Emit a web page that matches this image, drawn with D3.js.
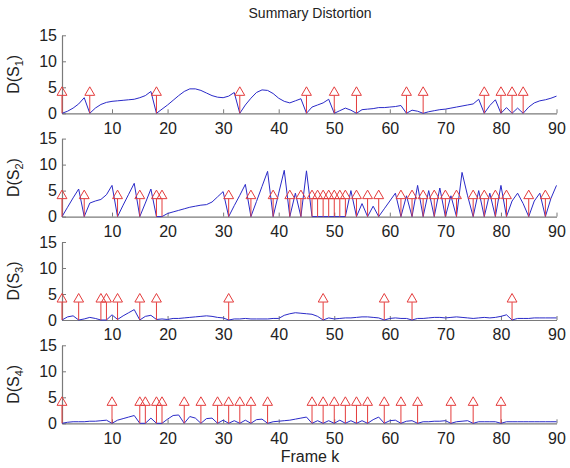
<!DOCTYPE html>
<html>
<head>
<meta charset="utf-8">
<script src="https://cdn.jsdelivr.net/npm/d3@7/dist/d3.min.js"></script>
<style>
  html, body { margin: 0; padding: 0; background: #ffffff; }
  svg { display: block; font-family: Arial, "Liberation Sans", Helvetica, sans-serif; }
</style>
</head>
<body>
<svg id="chart" width="570" height="468"></svg>
<script>
// ---------------- data ----------------
const frames = d3.range(1, 91);            // Frame k = 1..90
const xTickValues = [10, 20, 30, 40, 50, 60, 70, 80, 90];
const yTickValues = [0, 5, 10, 15];
const stemHeight = 4;

const distS1 = [0,0.4,1.0,1.8,3.0,0,1.0,1.7,2.1,2.3, 2.4,2.5,2.6,2.7,3.0,3.4,4.2,0,0.8,1.6,
  2.5,3.4,4.2,4.7,4.7,4.4,3.9,3.4,3.1,3.0, 3.3,4.0,0,1.6,2.9,4.0,4.5,4.4,3.8,2.9,
  2.3,2.0,2.4,2.8,0,1.2,1.6,2.0,2.7,0, 0.5,1.0,0.6,0,0.7,0.8,0.9,1.1,1.1,1.2,
  1.3,1.5,0,0.6,0.4,0,0.3,0.5,0.7,0.8, 1.0,1.2,1.4,1.6,1.8,2.7,0,1.5,2.6,0,
  1.1,0,1.0,0,1.2,2.0,2.4,2.6,2.9,3.3];
const stemsS1 = [1,6,18,33,45,50,54,63,66,77,80,82,84];

const distS2 = [0,1.8,3.6,5.3,0,2.6,3.0,3.3,4.2,6.0, 0,2.2,4.3,6.4,0,2.6,5.3,0,0,0.6,
  0.9,1.2,1.5,1.8,2.0,2.2,2.3,2.8,3.8,4.8, 0,2.1,4.1,6.2,0,2.9,5.8,8.7,0,4.5,
  8.9,0,4.5,0,8.8,0,0,0,0,0, 0,0,5.0,0,2.5,0,2.0,0,1.5,3.0,
  4.5,0,4.0,0,6.0,0,5.0,0,5.5,0, 4.0,0,8.5,4.0,0,5.0,0,4.5,0,6.0,
  0,3.0,4.5,2.5,0,3.0,4.5,0,3.5,6.0];
const stemsS2 = [1,5,11,15,18,19,31,35,39,42,44,46,47,48,49,50,51,52,54,56,58,62,64,66,68,70,72,75,77,79,81,85,88];

const distS3 = [0,0.6,0.8,0,0.2,0.5,0.3,0,0,1.0, 0.1,0.8,1.4,2.0,0,0.7,0.9,0.1,0.2,0.1,
  0.3,0.3,0.4,0.5,0.6,0.7,0.8,0.7,0.5,0.4, 0,0.2,0.2,0.3,0.2,0.2,0.2,0.2,0.3,0.3,
  0.9,1.2,1.4,1.3,1.2,1.1,0.7,0,0.4,0.2, 0.3,0.4,0.4,0.5,0.6,0.6,0.5,0.4,0,0.3,
  0.4,0.3,0.3,0,0.3,0.3,0.4,0.5,0.5,0.4, 0.5,0.6,0.5,0.4,0.3,0.4,0.5,0.4,0.5,0.7,
  1.0,0,0.3,0.3,0.3,0.4,0.4,0.4,0.4,0.4];
const stemsS3 = [1,4,8,9,11,15,18,31,48,59,64,82];

const distS4 = [0,0.2,0.3,0.3,0.3,0.4,0.4,0.5,0.6,0, 0.6,0.9,1.2,1.5,0,0,1.0,0,0,0.8,
  1.5,1.6,0,1.3,1.0,0,0.9,1.0,0,0.6, 0,0.5,0,0.6,0,0.7,0.8,0,0.3,0.4,
  0.5,0.6,0.8,1.0,1.2,0,0.5,0,0.5,0, 0.6,0,0.5,0,0.5,0,0.7,1.2,0,0.5,
  0.6,0,0.4,0.5,0,0.3,0.3,0.4,0.4,0.5, 0,0.3,0.4,0.5,0,0.3,0.3,0.3,0.3,0,
  0.3,0.3,0.3,0.3,0.3,0.3,0.3,0.3,0.3,0.3];
const stemsS4 = [1,10,15,16,18,19,23,26,29,31,33,35,38,46,48,50,52,54,56,59,62,65,71,75,80];

const panels = [
  { sub: "1", values: distS1, stems: stemsS1 },
  { sub: "2", values: distS2, stems: stemsS2 },
  { sub: "3", values: distS3, stems: stemsS3 },
  { sub: "4", values: distS4, stems: stemsS4 }
];

// ---------------- layout ----------------
const svg = d3.select("#chart");
const plotLeft = 62, plotRight = 556.5;
const panelBottoms = [113.3, 216.6, 320, 423.3];
const panelHeight = 78;

const x = d3.scaleLinear().domain([1, 90]).range([plotLeft, plotRight]);

const axisColor = "#7a7a7a";
const lineColor = "#2a2ac8";
const stemColor = "#e43c3c";

svg.append("text")
  .attr("x", 310).attr("y", 18)
  .attr("text-anchor", "middle")
  .attr("font-size", 14).attr("fill", "#222")
  .text("Summary Distortion");

panels.forEach((p, i) => {
  const yb = panelBottoms[i];
  const y = d3.scaleLinear().domain([0, 15]).range([yb, yb - panelHeight]);
  const g = svg.append("g");

  const xa = g.append("g")
    .attr("transform", `translate(0,${yb})`)
    .call(d3.axisBottom(x).tickValues(xTickValues).tickSize(-4).tickSizeOuter(0).tickPadding(9));
  const ya = g.append("g")
    .attr("transform", `translate(${plotLeft},0)`)
    .call(d3.axisLeft(y).tickValues(yTickValues).tickSize(-4).tickSizeOuter(0).tickPadding(5));
  [xa, ya].forEach(a => {
    a.select(".domain").attr("stroke", axisColor).attr("stroke-width", 1.2);
    a.selectAll(".tick line").attr("stroke", axisColor);
    a.selectAll(".tick text").attr("font-size", 16).attr("fill", "#222")
      .attr("font-family", "Arial, 'Liberation Sans', sans-serif");
  });

  const line = d3.line().x((d, j) => x(frames[j])).y(d => y(d));
  g.append("path").datum(p.values)
    .attr("d", line)
    .attr("fill", "none")
    .attr("stroke", lineColor)
    .attr("stroke-width", 1);

  const tri = d3.symbol().type(d3.symbolTriangle).size(42);
  const sg = g.selectAll(".stem").data(p.stems).enter().append("g");
  sg.append("line")
    .attr("x1", d => x(d)).attr("x2", d => x(d))
    .attr("y1", y(0)).attr("y2", y(stemHeight) + 3)
    .attr("stroke", stemColor).attr("stroke-width", 1);
  sg.append("path")
    .attr("d", tri)
    .attr("transform", d => `translate(${x(d)},${y(stemHeight)})`)
    .attr("fill", "none")
    .attr("stroke", stemColor).attr("stroke-width", 1);

  const lab = svg.append("text")
    .attr("transform", `translate(19,${yb - panelHeight / 2}) rotate(-90)`)
    .attr("text-anchor", "middle")
    .attr("font-size", 16).attr("fill", "#222");
  lab.append("tspan").text("D(S");
  lab.append("tspan").attr("font-size", 11).attr("dy", 4).text(p.sub);
  lab.append("tspan").attr("dy", -4).text(")");
});

svg.append("text")
  .attr("x", 310).attr("y", 462)
  .attr("text-anchor", "middle")
  .attr("font-size", 16).attr("fill", "#222")
  .text("Frame k");
</script>
</body>
</html>
